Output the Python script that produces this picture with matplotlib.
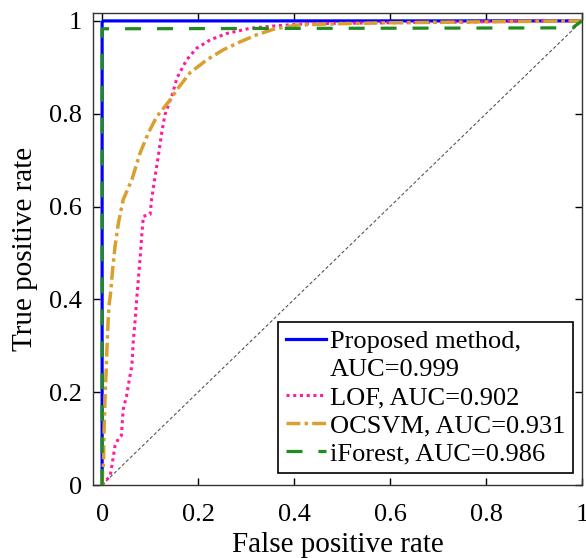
import matplotlib
matplotlib.use("Agg")
import matplotlib.pyplot as plt
from matplotlib.lines import Line2D

plt.rcParams['font.family'] = ['Liberation Serif', 'DejaVu Serif']
plt.rcParams['mathtext.fontset'] = 'stix'

# Data
prop_fpr = [0.0, 0.0, 0.004, 1.0]
prop_tpr = [0.0, 0.998, 1.0, 1.0]

lof_fpr = [0.0, 0.017, 0.027, 0.034, 0.040, 0.044, 0.051, 0.058, 0.062, 0.065, 0.069, 0.072,
           0.079, 0.083, 0.086, 0.100, 0.103, 0.110, 0.117, 0.124, 0.131, 0.142, 0.145,
           0.156, 0.176, 0.197, 0.225, 0.260, 0.308, 0.357, 0.426, 0.60, 0.80, 0.90, 1.0]
lof_tpr = [0.0, 0.020, 0.085, 0.100, 0.106, 0.163, 0.192, 0.235, 0.257, 0.310, 0.357, 0.400,
           0.486, 0.543, 0.579, 0.583, 0.615, 0.662, 0.708, 0.758, 0.798, 0.830, 0.837,
           0.877, 0.916, 0.941, 0.959, 0.973, 0.984, 0.989, 0.994, 0.996, 0.998, 1.0, 1.0]

ocsvm_fpr = [0.0, 0.0, 0.003, 0.004, 0.006, 0.008, 0.010, 0.013, 0.015, 0.017, 0.022, 0.027,
             0.034, 0.044, 0.062, 0.079, 0.096, 0.114, 0.142, 0.156, 0.183, 0.218, 0.253,
             0.288, 0.322, 0.357, 0.405, 0.496, 0.60, 0.80, 1.0]
ocsvm_tpr = [0.0, 0.013, 0.049, 0.113, 0.185, 0.235, 0.292, 0.364, 0.393, 0.407, 0.465, 0.515,
             0.565, 0.615, 0.658, 0.715, 0.758, 0.794, 0.830, 0.852, 0.888, 0.916, 0.938,
             0.955, 0.970, 0.982, 0.991, 0.994, 0.996, 0.998, 1.0]

if_fpr = [0.0, 0.0, 0.005, 0.98, 1.0]
if_tpr = [0.0, 0.983, 0.983, 0.985, 1.0]

labels = ["Proposed method,", "AUC=0.999", "LOF, AUC=0.902", "OCSVM, AUC=0.931", "iForest, AUC=0.986"]
x_ticks = [0, 0.2, 0.4, 0.6, 0.8, 1]
tick_labels = ["0", "0.2", "0.4", "0.6", "0.8", "1"]

fig = plt.figure(figsize=(5.86, 5.58), dpi=100)
ax = fig.add_axes([93/586, 1-485/558, (582-93)/586, (485-13)/558])

ax.plot([0, 1], [0, 1], color='#555555', lw=0.8, linestyle=(0, (3, 2)), zorder=1)
l1, = ax.plot(prop_fpr, prop_tpr, color='#0000FF', lw=2.3, zorder=2)
l2, = ax.plot(lof_fpr, lof_tpr, color='#FF1AA0', lw=2.2, linestyle=(0, (1, 1.2)), zorder=3)
l3, = ax.plot(ocsvm_fpr, ocsvm_tpr, color='#D9A030', lw=2.5, linestyle=(0, (4, 1.2, 1, 1.2)), zorder=4)
l4, = ax.plot(if_fpr, if_tpr, color='#1E8C1E', lw=2.3, linestyle=(0, (5, 5)), zorder=5)
blank = Line2D([], [], color='none')

ax.set_xlim(-0.019, 1.0)
ax.set_ylim(0, 1.017)
ax.set_xticks(x_ticks)
ax.set_xticklabels(tick_labels)
ax.set_yticks(x_ticks)
ax.set_yticklabels(tick_labels)
ax.tick_params(direction='in', top=True, right=True, length=5, width=1, labelsize=19)
ax.tick_params(axis='y', pad=8)
ax.tick_params(axis='x', pad=14)
for s in ax.spines.values():
    s.set_linewidth(1.0)
    s.set_color('#333333')
ax.set_xlabel('False positive rate', fontsize=21, labelpad=4)
ax.set_ylabel('True positive rate', fontsize=21, labelpad=8)

leg = ax.legend([l1, blank, l2, l3, l4], labels, loc='lower right',
                bbox_to_anchor=(0.982, 0.025), borderaxespad=0, fontsize=19,
                fancybox=False, edgecolor='black', framealpha=1,
                handlelength=1.5, handletextpad=0.15, borderpad=0.3, labelspacing=0.17)
leg.get_frame().set_linewidth(1.2)

fig.savefig('out.png', dpi=100)
